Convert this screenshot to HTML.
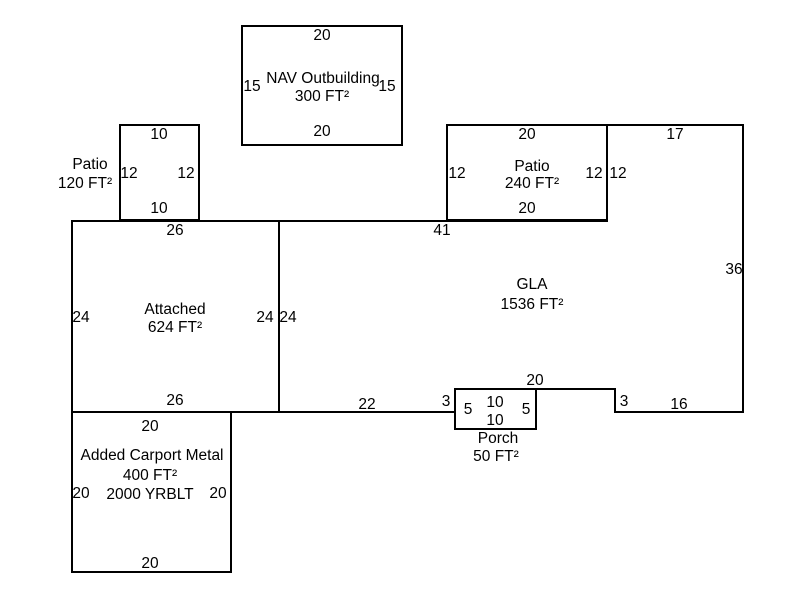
<!DOCTYPE html>
<html><head><style>body{margin:0;background:#fff}svg{display:block}text{font-family:"Liberation Sans",Arial,sans-serif;font-size:15.5px;fill:#000}</style></head><body>
<svg width="800" height="600" viewBox="0 0 800 600" xmlns="http://www.w3.org/2000/svg">
<g fill="none" stroke="#000" stroke-width="2">
<rect x="242" y="26" width="160" height="119"/>
<rect x="120" y="125" width="79" height="95"/>
<rect x="447" y="125" width="160" height="95"/>
<rect x="72" y="221" width="207" height="191"/>
<rect x="72" y="412" width="159" height="160"/>
<rect x="455" y="389" width="81" height="40"/>
<polyline points="279,221 607,221 607,125 743,125 743,412 615,412 615,389 536,389"/>
<line x1="279" y1="412" x2="455" y2="412"/>
</g>
<g text-anchor="middle">
<text x="322" y="40">20</text>
<text x="323" y="83">NAV Outbuilding</text>
<text x="322" y="101">300 FT²</text>
<text x="252" y="91">15</text>
<text x="387" y="91">15</text>
<text x="322" y="136">20</text>
<text x="159" y="139">10</text>
<text x="129" y="178">12</text>
<text x="186" y="178">12</text>
<text x="159" y="213">10</text>
<text x="90" y="169">Patio</text>
<text x="85" y="188">120 FT²</text>
<text x="527" y="139">20</text>
<text x="532" y="171">Patio</text>
<text x="532" y="188">240 FT²</text>
<text x="457" y="178">12</text>
<text x="594" y="178">12</text>
<text x="618" y="178">12</text>
<text x="527" y="213">20</text>
<text x="675" y="139">17</text>
<text x="442" y="235">41</text>
<text x="734" y="274">36</text>
<text x="532" y="289">GLA</text>
<text x="532" y="309">1536 FT²</text>
<text x="175" y="235">26</text>
<text x="175" y="314">Attached</text>
<text x="175" y="332">624 FT²</text>
<text x="81" y="322">24</text>
<text x="265" y="322">24</text>
<text x="288" y="322">24</text>
<text x="175" y="405">26</text>
<text x="367" y="409">22</text>
<text x="446" y="406">3</text>
<text x="535" y="385">20</text>
<text x="624" y="406">3</text>
<text x="679" y="409">16</text>
<text x="468" y="414">5</text>
<text x="495" y="407">10</text>
<text x="495" y="425">10</text>
<text x="526" y="414">5</text>
<text x="498" y="443">Porch</text>
<text x="496" y="461">50 FT²</text>
<text x="150" y="431">20</text>
<text x="152" y="460">Added Carport Metal</text>
<text x="150" y="480">400 FT²</text>
<text x="150" y="499">2000 YRBLT</text>
<text x="81" y="498">20</text>
<text x="218" y="498">20</text>
<text x="150" y="568">20</text>
</g>
</svg>
</body></html>
